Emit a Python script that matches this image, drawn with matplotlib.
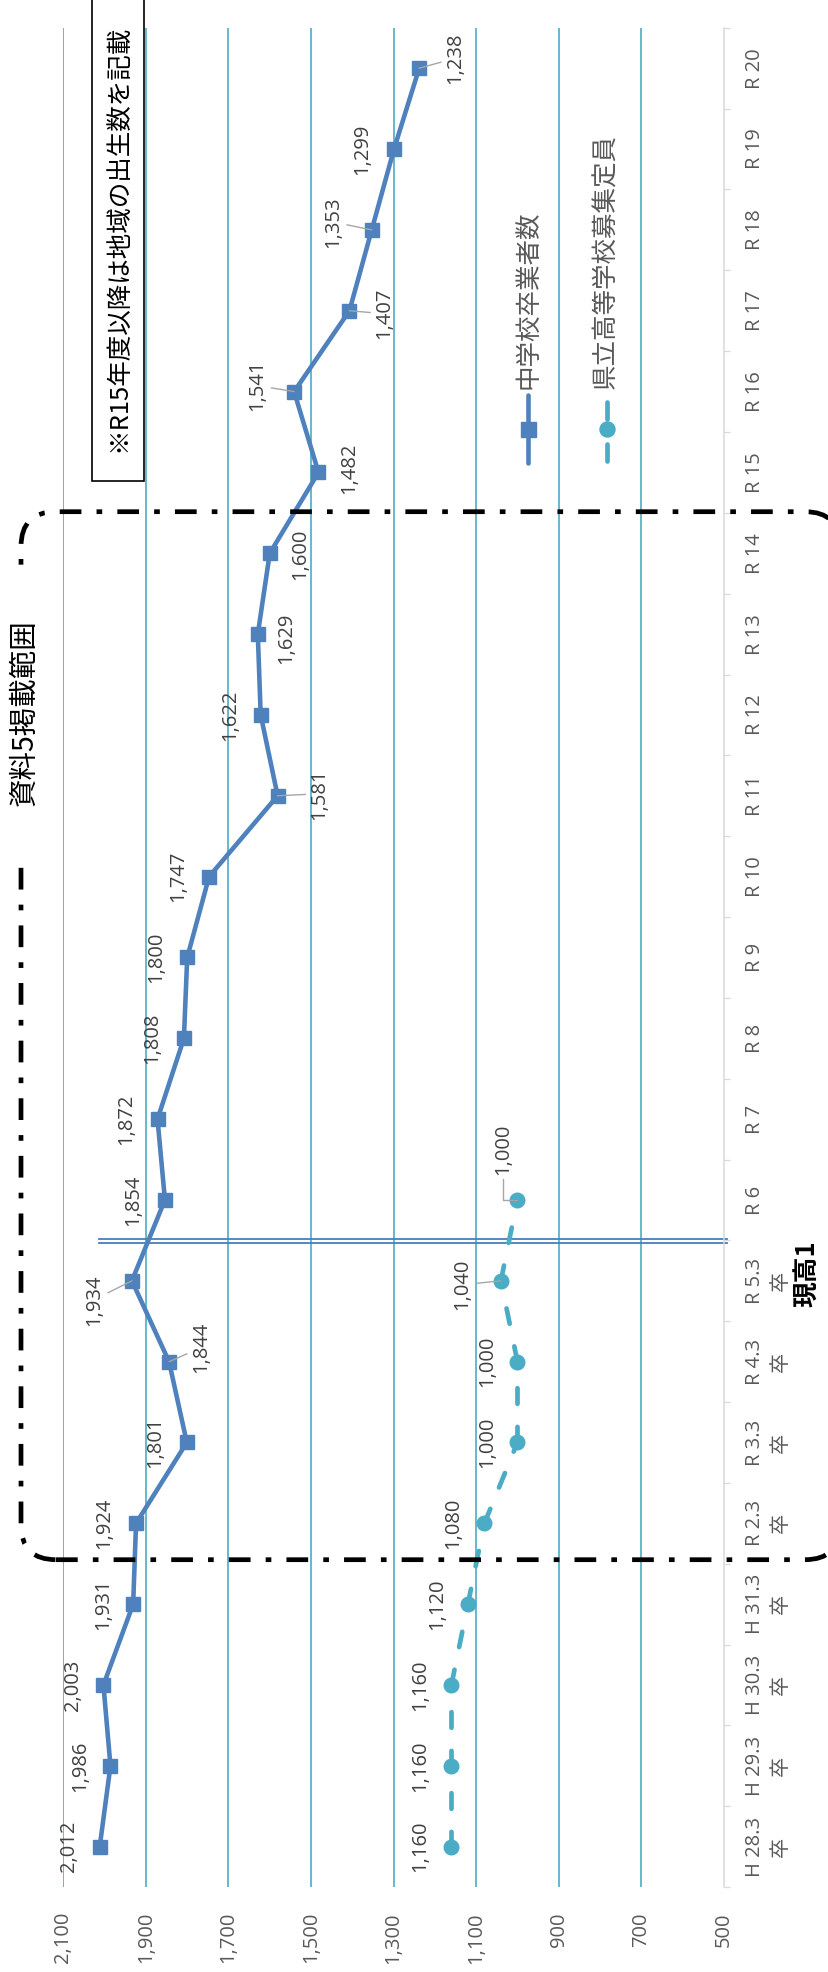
import numpy as np
import matplotlib
matplotlib.use("Agg")
import matplotlib.pyplot as plt
from matplotlib.patches import FancyBboxPatch, Rectangle, Polygon
from matplotlib.lines import Line2D

# ---------------- data ----------------
categories = ['H 28.3\n卒', 'H 29.3\n卒', 'H 30.3\n卒', 'H 31.3\n卒', 'R 2.3\n卒',
              'R 3.3\n卒', 'R 4.3\n卒', 'R 5.3\n卒', 'R 6', 'R 7', 'R 8', 'R 9',
              'R 10', 'R 11', 'R 12', 'R 13', 'R 14', 'R 15', 'R 16', 'R 17',
              'R 18', 'R 19', 'R 20']
graduates = [2012, 1986, 2003, 1931, 1924, 1801, 1844, 1934, 1854, 1872, 1808, 1800,
             1747, 1581, 1622, 1629, 1600, 1482, 1541, 1407, 1353, 1299, 1238]
capacity = [1160, 1160, 1160, 1120, 1080, 1000, 1000, 1040, 1000]
value_ticks = [500, 700, 900, 1100, 1300, 1500, 1700, 1900, 2100]
grid_values = [700, 900, 1100, 1300, 1500, 1700, 1900, 2100]
series_names = ['中学校卒業者数', '県立高等学校募集定員']

# label offsets (pixels: dx right, dy down) and leader flags
grad_offsets = [(-31, 0), (-30, 0), (-30, 0), (-30, 0), (-32, 0), (-32, 0), (32, -14),
                (-38, 19), (-32, 0), (-31, 0), (-32, 0), (-31, 0), (-31, 0), (42, -2),
                (-31, 0), (28, 4), (30, 1), (31, -4), (-37, -6), (35, 3), (-39, -8),
                (-32, 0), (36, -10)]
grad_leaders = {6, 7, 13, 18, 19, 20, 22}
cap_offsets = [(-31, 0), (-31, 0), (-31, 0), (-31, 0), (-31, 0), (-30, 0), (-30, 0),
               (-39, 4), (-14, -51)]
cap_leaders = {7: 'straight', 8: 'elbow'}

# ---------------- style ----------------
C1 = '#4f81bd'
C2 = '#4bacc6'
GRID = '#4bacc6'
NUMFONT = ['Open Sans', 'Noto Sans CJK JP', 'DejaVu Sans']
CJKFONT = ['Noto Sans CJK JP', 'DejaVu Sans']
NUMSIZE = 14.5

W, H, DPI = 829, 1972, 100
fig = plt.figure(figsize=(W / DPI, H / DPI), dpi=DPI)
fig.patch.set_facecolor('white')


def inch(x, y):
    return x / DPI, (H - y) / DPI


T = fig.dpi_scale_trans

ax = fig.add_axes([63.4 / W, 1 - 1887.1 / H, 660.4 / W, (1887.1 - 27.8) / H])
ax.set_facecolor('none')
idx = np.arange(len(categories))
ax.set_xlim(2100, 500)
ax.set_ylim(-0.5, len(categories) - 0.5)

# gridlines
ax.vlines(grid_values, -0.5, len(categories) - 0.5, colors=GRID, lw=1.2, zorder=1)

# spines
for s in ['left', 'top', 'bottom']:
    ax.spines[s].set_visible(False)
ax.spines['right'].set_color('#d9d9d9')
ax.spines['right'].set_linewidth(1.1)

# value axis (bottom)
ax.set_xticks(value_ticks)
ax.set_xticklabels([f'{v:,}' for v in value_ticks], rotation=90,
                   fontfamily=NUMFONT, fontsize=NUMSIZE, color='#595959')
ax.tick_params(axis='x', length=0, pad=18)

# category axis (right)
ax.yaxis.tick_right()
ax.set_yticks(np.arange(-0.5, len(categories), 1))
ax.set_yticklabels([])
ax.set_yticks(idx, labels=categories, minor=True)
ax.tick_params(axis='y', which='major', length=4.3, width=0.9, color='#d9d9d9',
               direction='out')
ax.tick_params(axis='y', which='minor', length=0, pad=15.5)
for lab in ax.get_yticklabels(minor=True):
    lab.set_rotation(90)
    lab.set_ha('left')
    lab.set_va('center')
    lab.set_multialignment('center')
    lab.set_linespacing(1.35)
    lab.set_fontfamily(NUMFONT)
    lab.set_fontsize(NUMSIZE)
    lab.set_color('#595959')

# double separator line between R5.3 and R6
ax.axhline(7.5 + 0.011, xmin=0.054, xmax=1.005, color='#4a7ebb', lw=1.3, zorder=2,
           clip_on=False)
ax.axhline(7.5 - 0.035, xmin=0.054, xmax=1.005, color='#4a7ebb', lw=1.3, zorder=2,
           clip_on=False)

# series 1
ax.plot(graduates, idx, color=C1, lw=3.3, marker='s', ms=10, solid_joinstyle='round',
        solid_capstyle='round', zorder=4, clip_on=False)

# series 2 (dash pattern restarts at every point)
n2 = len(capacity)
for i in range(n2 - 1):
    ax.plot(capacity[i:i + 2], idx[i:i + 2], color=C2, lw=3.4, dashes=(3.3, 4.9),
            dash_capstyle='round', zorder=4)
ax.plot(capacity, idx[:n2], ls='none', marker='o', ms=10.5, color=C2, zorder=5)


# data labels
def label(v, i, off, leader):
    dx, dy = off
    kw = dict(xy=(v, i), xytext=(dx, -dy), textcoords='offset pixels', rotation=90,
              ha='center', va='center', fontsize=NUMSIZE, color='#404040',
              fontfamily=NUMFONT, zorder=6, annotation_clip=False)
    if leader == 'straight':
        kw['arrowprops'] = dict(arrowstyle='-', color='#a6a6a6', lw=1.0, shrinkA=1,
                                shrinkB=0)
    elif leader == 'elbow':
        kw['arrowprops'] = dict(arrowstyle='-', color='#a6a6a6', lw=1.0, shrinkA=1,
                                shrinkB=0,
                                connectionstyle='angle,angleA=90,angleB=0,rad=0')
    ax.annotate(f'{v:,}', **kw)


for i, v in enumerate(graduates):
    label(v, i, grad_offsets[i], 'straight' if i in grad_leaders else None)
for i, v in enumerate(capacity):
    label(v, i, cap_offsets[i], cap_leaders.get(i))

# "現高1"
x, y = inch(808, 1274)
fig.text(x, y, '現高1', transform=T, rotation=90, ha='center', va='center',
         fontsize=18.5, fontweight='bold', color='black', fontfamily=CJKFONT)

# legend (drawn manually, rotated)
x1 = 528.3
fig.add_artist(Line2D([x1 / DPI] * 2, [inch(0, 395)[1], inch(0, 463)[1]], transform=T,
                      color=C1, lw=3.3, solid_capstyle='round'))
fig.add_artist(Line2D([x1 / DPI], [inch(0, 429)[1]], transform=T, color=C1,
                      marker='s', ms=10.8, ls='none'))
x2 = 606.5
fig.add_artist(Line2D([x2 / DPI] * 2, [inch(0, 402)[1], inch(0, 419)[1]], transform=T,
                      color=C2, lw=3.4, solid_capstyle='round'))
fig.add_artist(Line2D([x2 / DPI] * 2, [inch(0, 444)[1], inch(0, 461)[1]], transform=T,
                      color=C2, lw=3.4, solid_capstyle='round'))
fig.add_artist(Line2D([x2 / DPI], [inch(0, 429)[1]], transform=T, color=C2,
                      marker='o', ms=10.8, ls='none'))
for xc, name in zip([x1, x2], series_names):
    fig.text(xc / DPI, inch(0, 389)[1], name, transform=T, rotation=90, ha='center',
             va='bottom', fontsize=18.4, color='#595959', fontfamily=CJKFONT)

# note box
bx0, by0 = inch(91.7, 481)
fig.add_artist(Rectangle((bx0, by0), (144 - 91.7) / DPI, 5.2, transform=T,
                         facecolor='white', edgecolor='black', lw=1.2, zorder=7))
x, y = inch(118.3, 238)
fig.text(x, y, '※R15年度以降は地域の出生数を記載', transform=T, rotation=90,
         ha='center', va='center', fontsize=18.4, color='black', fontfamily=CJKFONT,
         zorder=8)

# dash-dot rounded frame "資料5掲載範囲" (built in pixel units, flattened to a polygon)
shape = FancyBboxPatch((21, H - 1559.7), 840 - 21, 1559.7 - 511.7,
                       boxstyle='round,pad=0,rounding_size=35')
poly = shape.get_path().to_polygons(closed_only=False)[0] / DPI
frame = Polygon(poly, closed=True, transform=T, fill=False, edgecolor='black', lw=3.4,
                linestyle=(0, (4.6, 3.2, 1.2, 3.2)), capstyle='butt', zorder=9)
fig.add_artist(frame)
wx0, wy0 = inch(4, 860)
fig.add_artist(Rectangle((wx0, wy0), 0.38, (860 - 568) / DPI, transform=T,
                         facecolor='white', edgecolor='none', zorder=10))
x, y = inch(25, 713)
fig.text(x, y, '資料5掲載範囲', transform=T, rotation=90, ha='center', va='center',
         fontsize=20.5, color='black', fontfamily=CJKFONT, zorder=11)

fig.savefig('out.png', dpi=DPI, facecolor='white')
